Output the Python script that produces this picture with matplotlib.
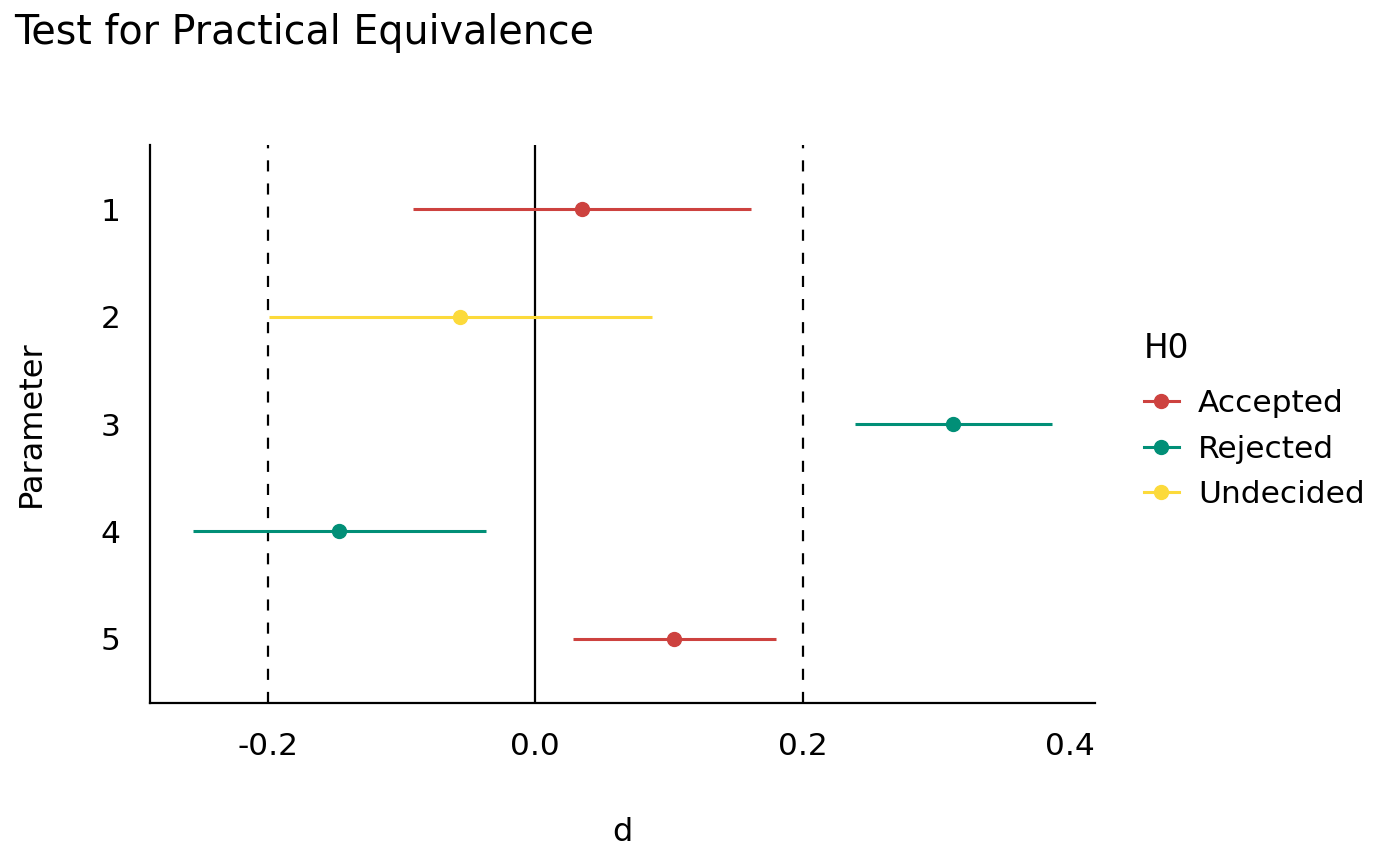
import matplotlib
matplotlib.use("Agg")
import matplotlib.pyplot as plt
from matplotlib.lines import Line2D

# Data
parameters = ["1", "2", "3", "4", "5"]
estimate = [0.0349, -0.0565, 0.3128, -0.1469, 0.1038]
ci_low = [-0.0914, -0.1992, 0.2393, -0.2562, 0.0281]
ci_high = [0.1616, 0.0872, 0.3867, -0.0367, 0.1801]
h0 = ["Accepted", "Undecided", "Rejected", "Rejected", "Accepted"]
rope = [-0.2, 0.2]
xticks = [-0.2, 0.0, 0.2, 0.4]
xticklabels = ["-0.2", "0.0", "0.2", "0.4"]
levels = ["Accepted", "Rejected", "Undecided"]
colors = {"Accepted": "#CD423F", "Rejected": "#018F77", "Undecided": "#FCDA3B"}

plt.rcParams["font.family"] = ["DejaVu Sans"]

fig = plt.figure(figsize=(14, 8.66), dpi=100)
ax = fig.add_axes([150/1400, (866-703)/866, 945/1400, 558/866])

ypos = list(range(1, len(parameters) + 1))

for r in rope:
    ax.axvline(r, color="black", linestyle=(0, (5, 5.4)), linewidth=1.6, zorder=1)
ax.axvline(0, color="black", linewidth=1.6, zorder=1)

for y, e, lo, hi, g in zip(ypos, estimate, ci_low, ci_high, h0):
    c = colors[g]
    ax.plot([lo, hi], [y, y], color=c, linewidth=2.2, solid_capstyle="butt", zorder=2)
    ax.plot([e], [y], marker="o", color=c, markersize=10, linestyle="none", zorder=3)

ax.set_xlim(-0.2883, 0.4188)
ax.set_ylim(5.6, 0.4)
ax.set_yticks(ypos)
ax.set_yticklabels(parameters)
ax.set_xticks(xticks)
ax.set_xticklabels(xticklabels)
ax.tick_params(axis="both", length=0, labelsize=22.5, pad=21)
ax.tick_params(axis="y", pad=21)

for s in ["top", "right"]:
    ax.spines[s].set_visible(False)
ax.spines["left"].set_linewidth(1.6)
ax.spines["bottom"].set_linewidth(1.6)

ax.set_xlabel("d", fontsize=23, labelpad=40)
ax.set_ylabel("Parameter", fontsize=23, labelpad=39)

fig.text(14/1400, 1 - 33/866, "Test for Practical Equivalence", fontsize=28.5,
         ha="left", va="center")

handles = [Line2D([0], [0], color=colors[l], marker="o", markersize=10, linewidth=2.2)
           for l in levels]
leg = fig.legend(handles, levels, title="H0", loc="upper left",
                 bbox_to_anchor=(1131/1400, 1 - 320/866), frameon=False,
                 fontsize=22.5, title_fontsize=23.5, handlelength=1.15,
                 labelspacing=0.53, handletextpad=0.6, alignment="left",
                 borderaxespad=0, borderpad=0.4)
leg._legend_box.sep = leg._legend_box.sep + 5

fig.savefig("out.png", dpi=100)
